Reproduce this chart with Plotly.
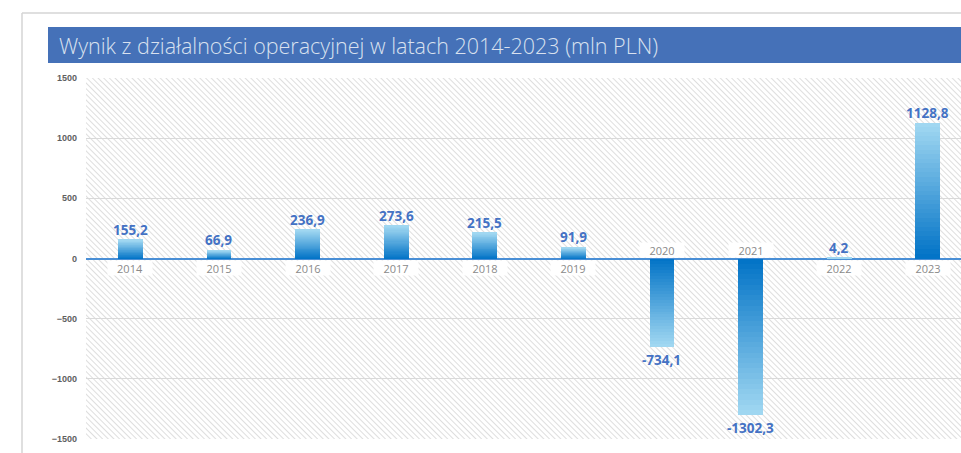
import base64
import plotly.graph_objects as go

years = ["2014", "2015", "2016", "2017", "2018", "2019", "2020", "2021", "2022", "2023"]
values = [155.2, 66.9, 236.9, 273.6, 215.5, 91.9, -734.1, -1302.3, 4.2, 1128.8]
value_labels = ["155,2", "66,9", "236,9", "273,6", "215,5", "91,9", "-734,1", "-1302,3", "4,2", "1128,8"]
title_text = "Wynik z działalności operacyjnej w latach 2014-2023 (mln PLN)"

W, H = 961, 453
ML, MR, MT, MB = 86, 0, 78, 14
PW, PH = W - ML - MR, H - MT - MB

DARK = (0, 114, 198)
LIGHT = (163, 217, 242)
N = 30


def mix(t):
    r = [round(DARK[i] + (LIGHT[i] - DARK[i]) * t) for i in range(3)]
    return f"rgb({r[0]},{r[1]},{r[2]})"


idx = list(range(len(years)))

fig = go.Figure()
# gradient bars: each bar split into N stacked segments
for k in range(N):
    fig.add_trace(go.Bar(
        x=years,
        y=[v / N for v in values],
        width=0.28,
        marker=dict(color=mix((k + 0.5) / N), line=dict(width=0)),
        showlegend=False,
        hoverinfo="skip",
    ))

# hatched background
svg = f'''<svg xmlns="http://www.w3.org/2000/svg" width="{PW}" height="{PH}" viewBox="0 0 {PW} {PH}" preserveAspectRatio="none">
<defs><pattern id="h" patternUnits="userSpaceOnUse" width="4" height="4" patternTransform="rotate(-45)">
<rect width="4" height="4" fill="#ffffff"/><line x1="0" y1="0" x2="0" y2="4" stroke="#d8d8d8" stroke-width="1.7"/></pattern></defs>
<rect width="{PW}" height="{PH}" fill="url(#h)"/></svg>'''
src = "data:image/svg+xml;base64," + base64.b64encode(svg.encode()).decode()
fig.add_layout_image(dict(source=src, xref="paper", yref="paper", x=0, y=1, sizex=1, sizey=1,
                          xanchor="left", yanchor="top", sizing="stretch", layer="below"))


def px_x(px):
    return (px - ML) / PW


def px_y(py):
    return (H - MB - py) / PH


shapes = [
    # outer frame
    dict(type="line", xref="paper", yref="paper", x0=px_x(22), x1=px_x(W + 5), y0=px_y(13), y1=px_y(13),
         line=dict(color="#d4d4d4", width=1.5)),
    dict(type="line", xref="paper", yref="paper", x0=px_x(22), x1=px_x(22), y0=px_y(13), y1=px_y(H + 5),
         line=dict(color="#d4d4d4", width=1.5)),
    # title bar
    dict(type="rect", xref="paper", yref="paper", x0=px_x(48), x1=px_x(W + 5), y0=px_y(63), y1=px_y(27),
         fillcolor="#4571b8", line=dict(width=0)),
]

annotations = [
    dict(text=title_text, xref="paper", yref="paper", x=px_x(57), y=px_y(46), xanchor="left",
         yanchor="middle", showarrow=False,
         font=dict(family="Open Sans", size=21.5, color="#d9e1ef", weight=300)),
]

for i, v, lab in zip(idx, values, value_labels):
    pos = v >= 0
    annotations.append(dict(
        x=i, y=0, xref="x", yref="y", text=years[i], showarrow=False,
        yanchor="top" if pos else "bottom", yshift=-1 if pos else 1,
        bgcolor="#ffffff", width=42, height=12, borderpad=1,
        font=dict(family="Open Sans", size=11, color="#8a8a8a"),
    ))
    annotations.append(dict(
        x=i, y=v, xref="x", yref="y", text=f"<b>{lab}</b>", showarrow=False,
        yanchor="bottom" if pos else "top", yshift=-1 if pos else -2,
        font=dict(family="Open Sans", size=13.5, color="#4472c4"),
    ))

fig.update_layout(
    width=W, height=H,
    margin=dict(l=ML, r=MR, t=MT, b=MB),
    paper_bgcolor="#ffffff", plot_bgcolor="rgba(0,0,0,0)",
    barmode="relative", bargap=0,
    shapes=shapes, annotations=annotations,
    xaxis=dict(type="category", range=[-0.5, -0.5 + PW / 88.6], showticklabels=False,
               showgrid=False, zeroline=False, fixedrange=True),
    yaxis=dict(range=[-1500, 1500], dtick=500, showgrid=True, gridcolor="#d9d9d9", gridwidth=1,
               zeroline=True, zerolinecolor="#4a8fd6", zerolinewidth=1.5,
               tickfont=dict(family="Arial", size=9, color="#5f5f5f", weight="bold"),
               ticklabelstandoff=8, fixedrange=True),
    showlegend=False,
)

fig.write_html("out.html", config={"displayModeBar": False},
               post_script="document.body.style.margin='0';document.body.style.overflow='hidden';")
